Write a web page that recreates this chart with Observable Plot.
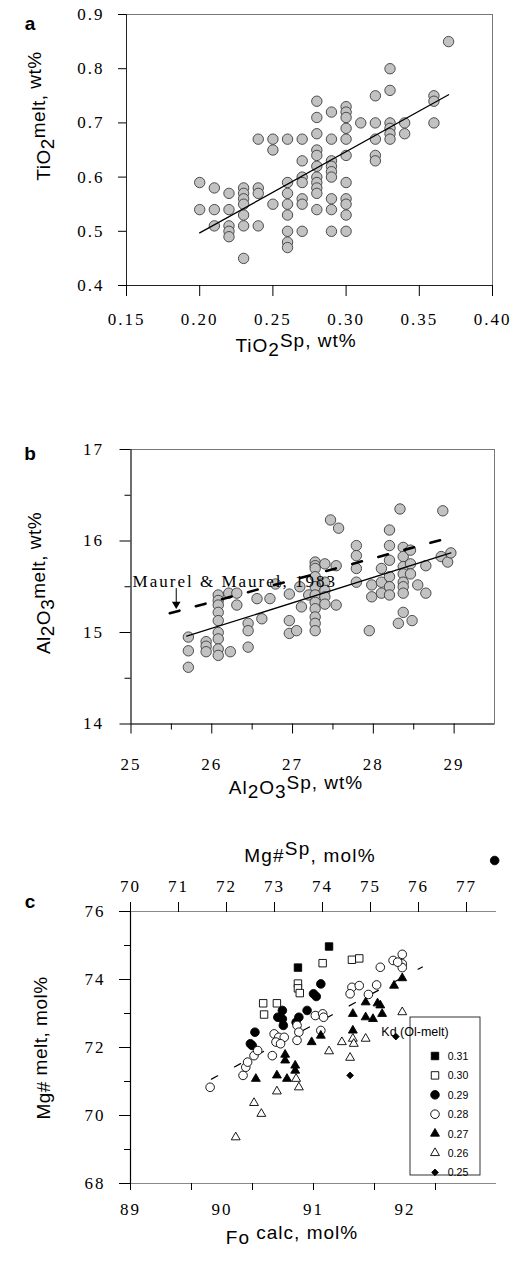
<!DOCTYPE html>
<html><head><meta charset="utf-8">
<script src="https://cdn.jsdelivr.net/npm/d3@7"></script>
<script src="https://cdn.jsdelivr.net/npm/@observablehq/plot@0.6"></script>
<style>
body{margin:0;background:#fff;}
#wrap{position:relative;width:518px;height:1265px;overflow:hidden;background:#fff;}
#wrap > svg{position:absolute;left:0;}
</style></head><body><div id="wrap"></div>
<script>
// ---------- Panel a data ----------
const aSpCols = [0.20,0.21,0.22,0.23,0.24,0.25,0.26,0.27,0.28,0.29,0.30,0.31,0.32,0.33,0.34,0.36,0.37];
const aMeltByCol = [
 [0.59,0.54],
 [0.58,0.54,0.51],
 [0.57,0.54,0.51,0.50,0.49],
 [0.58,0.57,0.56,0.55,0.53,0.51,0.45],
 [0.67,0.58,0.57,0.51],
 [0.67,0.65,0.55],
 [0.67,0.59,0.57,0.55,0.53,0.50,0.48,0.47],
 [0.67,0.63,0.60,0.59,0.56,0.55,0.50],
 [0.74,0.71,0.68,0.65,0.64,0.62,0.60,0.59,0.58,0.57,0.54],
 [0.72,0.67,0.63,0.62,0.61,0.60,0.56,0.54,0.50],
 [0.73,0.72,0.71,0.69,0.67,0.64,0.59,0.56,0.55,0.53,0.50],
 [0.70],
 [0.75,0.70,0.67,0.64,0.63],
 [0.80,0.76,0.70,0.69,0.68,0.67],
 [0.70,0.68],
 [0.75,0.74,0.70],
 [0.85]];
const aFitX = [0.20, 0.37];
const aFitY = [0.497, 0.752];
const aXTicks = [0.15,0.20,0.25,0.30,0.35,0.40];
const aYTicks = [0.4,0.5,0.6,0.7,0.8,0.9];

// ---------- Panel b data ----------
const bSpCols = [25.71,25.93,26.08,26.21,26.23,26.31,26.45,26.56,26.62,26.72,26.79,26.96,27.05,27.09,27.11,27.20,27.28,27.40,27.47,27.54,27.57,27.79,27.95,27.98,28.10,28.20,28.31,28.33,28.37,28.46,28.48,28.55,28.65,28.84,28.86,28.92,28.96];
const bMeltByCol = [
 [14.95,14.80,14.62],
 [14.90,14.85,14.79],
 [15.41,15.35,15.30,15.22,15.13,15.00,14.93,14.82,14.75],
 [15.43],
 [14.79],
 [15.43,15.30],
 [15.10,15.02,14.84],
 [15.37],
 [15.15],
 [15.37],
 [15.53],
 [15.42,15.13,14.99],
 [15.02],
 [15.50],
 [15.28],
 [15.41],
 [15.77,15.73,15.70,15.61,15.50,15.41,15.33,15.26,15.17,15.10,15.02],
 [15.75,15.55,15.46,15.39,15.31],
 [16.23],
 [15.73,15.30],
 [16.14],
 [15.95,15.84,15.70,15.55],
 [15.02],
 [15.52,15.39],
 [15.70,15.55,15.43],
 [16.12,15.95,15.79,15.61,15.50,15.41],
 [15.10],
 [16.35],
 [15.93,15.83,15.72,15.64,15.55,15.50,15.43,15.22],
 [15.90,15.75,15.64],
 [15.13],
 [15.52],
 [15.73,15.43],
 [15.83],
 [16.33],
 [15.77],
 [15.87]];
const bFitX = [25.69, 28.96];
const bFitY = [14.96, 15.87];
const bMaurelX = [25.48, 29.0];
const bMaurelY = [15.21, 16.05];
const bNote = {text: "Maurel & Maurel, 1983", x: 25.02, y: 15.56, arrowX: 25.56, arrowY1: 15.48, arrowY2: 15.31};
const bXMajor = [25,26,27,28,29];
const bXMinor = [25.5,26.5,27.5,28.5];
const bYMajor = [14,15,16,17];
const bYMinor = [14.5,15.5,16.5];

// ---------- Panel c data ----------
const kdLevels  = ["0.31","0.30","0.29","0.28","0.27","0.26","0.25"];
const kdSymbols = ["square","square","circle","circle","triangle","triangle","diamond2"];
const kdFilled  = [true,false,true,false,true,false,true];
const kdRadius  = [4.2,4.2,4.3,4.3,3.3,3.3,3.0];
const cFo = [
 [91.17,90.83],
 [91.10,91.42,91.50,90.83,90.83,90.85,90.45,90.60,90.46],
 [91.08,91.00,91.03,90.93,90.66,90.61,90.66,90.67,90.84,90.81,90.36,90.31,90.33,92.98],
 [89.87,90.23,90.26,90.28,90.35,90.39,90.55,90.57,90.62,90.68,90.59,90.64,90.82,90.84,90.82,91.02,91.10,91.11,91.08,91.42,91.50,91.40,91.69,91.60,91.73,91.87,91.97,91.97,91.97,91.92],
 [91.97,91.88,91.57,91.70,91.73,91.75,91.43,91.57,91.65,91.43,91.08,90.98,90.69,90.69,90.80,90.80,90.37,90.60,90.71],
 [91.97,91.31,91.43,91.44,91.57,91.17,91.40,90.81,90.60,90.84,90.35,90.43,90.15],
 [91.90,91.40]];
const cMg = [
 [74.97,74.35],
 [74.48,74.58,74.62,73.88,73.74,73.60,73.30,73.30,72.97],
 [73.87,73.58,73.50,73.09,73.09,72.89,72.84,72.65,72.89,72.74,72.45,72.11,72.06,77.50],
 [70.83,71.18,71.42,71.57,71.76,71.91,71.76,72.40,72.30,72.30,72.16,72.11,72.65,72.45,72.21,72.94,72.99,72.89,72.50,73.77,73.82,73.58,73.84,73.56,74.36,74.56,74.74,74.46,74.35,74.51],
 [74.04,73.82,73.33,73.30,73.24,72.99,72.99,72.89,72.84,72.50,72.35,72.16,71.79,71.62,71.47,71.32,71.08,71.18,71.08],
 [73.04,72.16,72.26,72.11,72.26,71.89,71.70,71.08,70.71,70.83,70.37,70.05,69.36],
 [72.32,71.18]];
const cFitX = [89.885, 92.19];
const cFitY = [71.07, 74.37];
const cFoDomain = [89, 93];
const cMgSpDomain = [70, 77.625];
const cFoLabels = [89,90,91,92];
const cFoTickMarks = [89, 89 + 2/3, 89 + 4/3, 91, 91 + 2/3, 91 + 4/3];
const cMgSpTicks = [70,71,72,73,74,75,76,77];
const cYMajor = [68,70,72,74,76];
const cYMinor = [69,71,73,75];

// ---------- helpers ----------
const wrap = document.getElementById("wrap");
const SERIF = "Liberation Serif";
const SANS = "Liberation Sans";
const plotStyle = {background: "transparent", overflow: "visible", fontFamily: SERIF, fontSize: "17px"};
function place(svg, top){
  svg.style.top = top + "px";
  d3.select(svg).selectAll("text")
    .style("font-family", SERIF).style("font-size", "17px").style("letter-spacing", "2px");
  wrap.appendChild(svg);
  return svg;
}
function richText(svg, x, y, parts, opt){
  const t = d3.select(svg).append("text").attr("x", x).attr("y", y)
    .style("font-family", opt.family || SANS).style("font-size", opt.size + "px")
    .attr("text-anchor", opt.anchor || "middle").attr("fill", "#000")
    .style("letter-spacing", (opt.ls || 0) + "px");
  if (opt.rotate) t.attr("transform", `rotate(${opt.rotate},${x},${y})`);
  let cur = 0;
  for (const [s, shift, k] of parts){
    t.append("tspan").attr("dy", shift - cur).style("font-size", (opt.size * (k || 1)) + "px").text(s);
    cur = shift;
  }
  if (opt.weight) t.style("font-weight", opt.weight);
  return t;
}
const fmtInt = d3.format("d");

// ---------- Panel a ----------
const aPts = aSpCols.flatMap((x, i) => aMeltByCol[i].map(y => ({x, y})));
const aFit = aFitX.map((x, i) => ({x, y: aFitY[i]}));
const svgA = Plot.plot({
  width: 518, height: 370,
  marginTop: 14, marginBottom: 85, marginLeft: 126, marginRight: 26,
  x: {domain: [0.15, 0.40]},
  y: {domain: [0.4, 0.9]},
  style: plotStyle,
  marks: [
    Plot.frame({stroke: "#777", strokeWidth: 1}),
    Plot.ruleX([0.15], {stroke: "#222"}),
    Plot.ruleY([0.4], {stroke: "#222"}),
    Plot.axisX({ticks: aXTicks, tickSize: 11, tickPadding: 16, tickFormat: d3.format(".2f"), label: null}),
    Plot.axisY({ticks: aYTicks, tickSize: 8, tickPadding: 14, tickFormat: d3.format(".1f"), label: null}),
    Plot.dot(aPts, {x: "x", y: "y", r: 5.2, fill: "#c2c2c2", stroke: "#3c3c3c", strokeWidth: 0.9}),
    Plot.line(aFit, {x: "x", y: "y", stroke: "#000", strokeWidth: 1.3})
  ]
});
place(svgA, 0);
richText(svgA, 30, 30, [["a", 0]], {size: 19, weight: "bold", family: SANS});
richText(svgA, 50, 116, [["TiO",0],["2",4],["melt",-5],[", ",-5],["wt%",-9]], {size: 19, rotate: -90, ls: 0.5});
richText(svgA, 296, 352, [["TiO",0],["2",4],["Sp",-5],[", wt%",-5]], {size: 19, ls: 1});

// ---------- Panel b ----------
const bPts = bSpCols.flatMap((x, i) => bMeltByCol[i].map(y => ({x, y})));
const bFit = bFitX.map((x, i) => ({x, y: bFitY[i]}));
const bMaurel = bMaurelX.map((x, i) => ({x, y: bMaurelY[i]}));
const svgB = Plot.plot({
  width: 518, height: 410,
  marginTop: 49, marginBottom: 86.5, marginLeft: 130.5, marginRight: 24,
  x: {domain: [25, 29.5]},
  y: {domain: [14, 17]},
  style: plotStyle,
  marks: [
    Plot.frame({stroke: "#777", strokeWidth: 1}),
    Plot.ruleX([25], {stroke: "#222"}),
    Plot.ruleY([14], {stroke: "#222"}),
    Plot.axisX({ticks: bXMajor, tickSize: 10, tickPadding: 24, tickFormat: fmtInt, label: null}),
    Plot.axisX({ticks: bXMinor, tickSize: 6, text: null, label: null}),
    Plot.axisY({ticks: bYMajor, tickSize: 11, tickPadding: 16, tickFormat: fmtInt, label: null}),
    Plot.axisY({ticks: bYMinor, tickSize: 6, text: null, label: null}),
    Plot.dot(bPts, {x: "x", y: "y", r: 5.2, fill: "#c2c2c2", stroke: "#3c3c3c", strokeWidth: 0.9}),
    Plot.line(bFit, {x: "x", y: "y", stroke: "#000", strokeWidth: 1.3}),
    Plot.line(bMaurel, {x: "x", y: "y", stroke: "#000", strokeWidth: 2.6, strokeDasharray: "10,17"}),
    Plot.text([bNote], {x: "x", y: "y", text: "text", textAnchor: "start", fill: "#000", ariaLabel: "note"}),
    Plot.ruleX([bNote], {x: "arrowX", y1: "arrowY1", y2: "arrowY2", stroke: "#000", strokeWidth: 1}),
    Plot.dot([bNote], {x: "arrowX", y: "arrowY2", symbol: "triangle", rotate: 180, r: 3.2, fill: "#000", stroke: "none"})
  ]
});
place(svgB, 400);
d3.select(svgB).selectAll('g[aria-label="note"] text').style("font-size", "15px").style("letter-spacing", "1px");
richText(svgB, 30, 60, [["b", 0]], {size: 19, weight: "bold", family: SANS});
richText(svgB, 50, 183, [["Al",0],["2",4],["O",0],["3",4],["melt",-5],[", ",-5],["wt%",-9]], {size: 19, rotate: -90, ls: 0.5});
richText(svgB, 296, 394, [["Al",0],["2",4],["O",0],["3",4],["Sp",-5],[", wt%",-5]], {size: 19, ls: 1});

// ---------- Panel c ----------
const mgToFo = d3.scaleLinear().domain(cMgSpDomain).range(cFoDomain);
const cMarks = kdLevels.map((kd, i) => {
  const pts = cFo[i].map((x, j) => ({x, y: cMg[i][j]}));
  return Plot.dot(pts, {x: "x", y: "y", symbol: kdSymbols[i], r: kdRadius[i],
    fill: kdFilled[i] ? "#000" : "#fff", stroke: "#000", strokeWidth: 0.9});
});
const cFit = cFitX.map((x, i) => ({x, y: cFitY[i]}));
const svgC = Plot.plot({
  width: 518, height: 445,
  marginTop: 91, marginBottom: 82, marginLeft: 130, marginRight: 22,
  x: {domain: cFoDomain},
  y: {domain: [68, 76]},
  style: plotStyle,
  marks: [
    Plot.ruleX([89], {stroke: "#000", strokeWidth: 1.2}),
    Plot.ruleY([68], {stroke: "#888"}),
    Plot.ruleY([76], {stroke: "#888"}),
    Plot.axisX({ticks: cFoLabels, tickSize: 0, tickPadding: 19, tickFormat: fmtInt, label: null}),
    Plot.axisX({ticks: cFoTickMarks, tickSize: 7, text: null, label: null}),
    Plot.axisX({anchor: "top", ticks: cMgSpTicks.map(mgToFo), tickSize: 10, tickPadding: 10,
      tickFormat: d => String(Math.round(mgToFo.invert(d))), label: null}),
    Plot.axisY({ticks: cYMajor, tickSize: 11, tickPadding: 14, tickFormat: fmtInt, label: null}),
    Plot.axisY({ticks: cYMinor, tickSize: 6, text: null, label: null}),
    Plot.line(cFit, {x: "x", y: "y", stroke: "#000", strokeWidth: 1.2, strokeDasharray: "7,19"}),
    ...cMarks
  ]
});
place(svgC, 820);
richText(svgC, 30, 88, [["c", 0]], {size: 19, weight: "bold", family: SANS});
richText(svgC, 50, 228, [["Mg# ",0],["melt",-3],[", ",-3],["mol%",-3]], {size: 19, rotate: -90, ls: 0.5});
richText(svgC, 310, 42, [["Mg#",0],["Sp",-7],[", mol%",0]], {size: 19, ls: 1.2});
richText(svgC, 292, 424, [["Fo ",0],["calc",-5],[", mol%",-5]], {size: 19, ls: 1});

// legend for panel c
const lg = d3.select(svgC).append("g").attr("transform", "translate(410,197)");
lg.append("rect").attr("x", 0).attr("y", 0).attr("width", 70).attr("height", 158)
  .attr("fill", "#fff").attr("stroke", "#000").attr("stroke-width", 0.8);
lg.append("text").attr("x", 5).attr("y", 19).style("font-family", SANS).style("font-size", "12.5px").text("Kd (Ol-melt)");
const symMap = {square: d3.symbolSquare, circle: d3.symbolCircle, triangle: d3.symbolTriangle, diamond2: d3.symbolDiamond2};
kdLevels.forEach((kd, i) => {
  const yy = 39 + i * 19.4;
  lg.append("path").attr("transform", `translate(25,${yy})`)
    .attr("d", d3.symbol(symMap[kdSymbols[i]], Math.PI * kdRadius[i] * kdRadius[i])())
    .attr("fill", kdFilled[i] ? "#000" : "#fff").attr("stroke", "#000").attr("stroke-width", 0.9);
  lg.append("text").attr("x", 48).attr("y", yy + 4).style("font-family", SANS).style("font-size", "10.5px").text(kd);
});
</script></body></html>
